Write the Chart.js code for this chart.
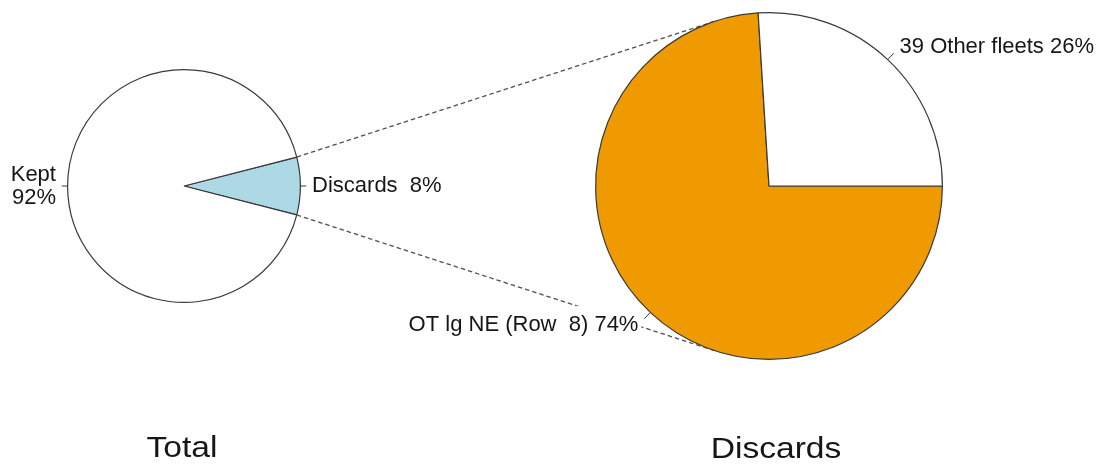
<!DOCTYPE html>
<html>
<head>
<meta charset="utf-8">
<script src="https://cdn.jsdelivr.net/npm/chart.js@4.4.0/dist/chart.umd.min.js"></script>
<style>
  html, body { margin: 0; padding: 0; background: #ffffff; }
  #wrap { position: relative; width: 1107px; height: 465px; }
  #wrap canvas { position: absolute; left: 0; top: 0; }
</style>
</head>
<body>
<div id="wrap">
  <canvas id="c1" width="1107" height="465"></canvas>
  <canvas id="c2" width="1107" height="465"></canvas>
</div>
<script>
// ---- data ----
const totalCategories = ['Discards', 'Kept'];
const totalValues = [8, 92];
const totalLabels = ['Discards  8%', 'Kept\n92%'];
const totalColors = ['#ADD8E6', '#FFFFFF'];

const discardCategories = ['OT lg NE (Row  8)', '39 Other fleets'];
const discardValues = [74, 26];
const discardLabels = ['OT lg NE (Row  8) 74%', '39 Other fleets 26%'];
const discardColors = ['#EE9A00', '#FFFFFF'];

const titles = ['Total', 'Discards'];

const LABEL_FONT = '22px "Liberation Sans", Arial, sans-serif';
const TITLE_FONT = '30px "Liberation Sans", Arial, sans-serif';
const INK = '#161616';
const EDGE = '#3a3a3a';

function drawPieLabels(chart, labels, opts) {
  const ctx = chart.ctx;
  const arcs = chart.getDatasetMeta(0).data;
  ctx.save();
  ctx.font = LABEL_FONT;
  ctx.textBaseline = 'middle';
  arcs.forEach((arc, i) => {
    const p = arc.getProps(['x', 'y', 'startAngle', 'endAngle', 'outerRadius'], true);
    const mid = (p.startAngle + p.endAngle) / 2;
    const c = Math.cos(mid), s = Math.sin(mid);
    const r = p.outerRadius;
    const lines = labels[i].split('\n');
    const lx = p.x + 1.1 * r * c, ly = p.y + 1.1 * r * s;
    ctx.textAlign = c < 0 ? 'right' : 'left';
    const lh = 23;
    if (opts && opts.bgIndex === i) {
      let w = 0;
      lines.forEach(t => { w = Math.max(w, ctx.measureText(t).width); });
      const x0 = c < 0 ? lx - w - 4 : lx - 3;
      ctx.fillStyle = '#ffffff';
      ctx.fillRect(x0, ly - 19, w + 7, 36);
    }
    ctx.strokeStyle = EDGE;
    ctx.lineWidth = 1;
    ctx.beginPath();
    ctx.moveTo(p.x + r * c, p.y + r * s);
    ctx.lineTo(p.x + 1.05 * r * c, p.y + 1.05 * r * s);
    ctx.stroke();
    ctx.fillStyle = INK;
    lines.forEach((t, k) => {
      const yy = ly + (k - (lines.length - 1) / 2) * lh;
      ctx.fillText(t, lx, yy);
    });
  });
  ctx.restore();
}

function drawTitle(ctx, text, cx, baseline) {
  ctx.save();
  ctx.font = TITLE_FONT;
  ctx.fillStyle = INK;
  ctx.textAlign = 'center';
  ctx.textBaseline = 'alphabetic';
  ctx.translate(cx, baseline);
  ctx.scale(1.12, 1);
  ctx.fillText(text, 0, 0);
  ctx.restore();
}

let chart1;

const totalPlugin = {
  id: 'totalDeco',
  afterDatasetsDraw(chart) {
    drawPieLabels(chart, totalLabels);
    drawTitle(chart.ctx, titles[0], 182, 457);
    drawTitle(chart.ctx, titles[1], 776, 458);
  }
};

const discardPlugin = {
  id: 'discardDeco',
  beforeDatasetsDraw(chart) {
    // dashed connector lines: from the edges of the Discards slice, tangent to the second pie
    const a = chart1.getDatasetMeta(0).data[0].getProps(['x', 'y', 'startAngle', 'endAngle', 'outerRadius'], true);
    const b = chart.getDatasetMeta(0).data[0].getProps(['x', 'y', 'outerRadius'], true);
    const ctx = chart.ctx;
    ctx.save();
    ctx.strokeStyle = '#505050';
    ctx.lineWidth = 1.3;
    ctx.setLineDash([4.5, 3]);
    [a.startAngle, a.endAngle].forEach(ang => {
      const px = a.x + a.outerRadius * Math.cos(ang);
      const py = a.y + a.outerRadius * Math.sin(ang);
      const dx = px - b.x, dy = py - b.y;
      const d = Math.hypot(dx, dy);
      const phi = Math.atan2(dy, dx);
      const alpha = Math.acos(b.outerRadius / d);
      const t = py < b.y ? phi + alpha : phi - alpha;
      ctx.beginPath();
      ctx.moveTo(px, py);
      ctx.lineTo(b.x + b.outerRadius * Math.cos(t), b.y + b.outerRadius * Math.sin(t));
      ctx.stroke();
    });
    ctx.restore();
  },
  afterDatasetsDraw(chart) {
    drawPieLabels(chart, discardLabels, { bgIndex: 0 });
  }
};

function pieConfig(values, cats, colors, rotation, padding, plugin) {
  return {
    type: 'pie',
    data: {
      labels: cats,
      datasets: [{
        data: values,
        backgroundColor: colors,
        borderColor: EDGE,
        borderWidth: 1.2,
        hoverOffset: 0
      }]
    },
    options: {
      responsive: false,
      animation: false,
      rotation: rotation,
      layout: { padding: padding },
      plugins: { legend: { display: false }, tooltip: { enabled: false } },
      events: []
    },
    plugins: [plugin]
  };
}

const totalSum = totalValues.reduce((s, v) => s + v, 0);
const totalRotation = 90 - (totalValues[0] / totalSum) * 180;

chart1 = new Chart(document.getElementById('c1'),
  pieConfig(totalValues, totalCategories, totalColors, totalRotation,
    { left: 67, right: 806, top: 69, bottom: 162 }, totalPlugin));

new Chart(document.getElementById('c2'),
  pieConfig(discardValues, discardCategories, discardColors, 90,
    { left: 595, right: 164, top: 12, bottom: 105 }, discardPlugin));
</script>
</body>
</html>
